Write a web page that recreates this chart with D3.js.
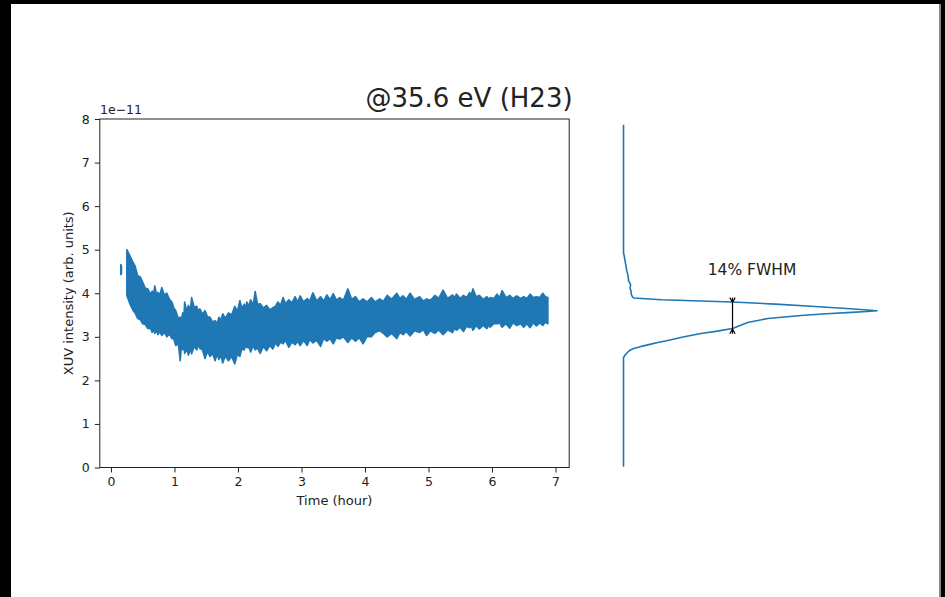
<!DOCTYPE html>
<html>
<head>
<meta charset="utf-8">
<script src="https://cdn.jsdelivr.net/npm/d3@7"></script>
<style>
  body { margin: 0; background: #000; }
  text { font-family: "DejaVu Sans", sans-serif; fill: #222; }
</style>
</head>
<body>
<svg id="chart" width="945" height="597"></svg>
<script>
// DATA (intensity in units of 1e-11, time in hours) - envelope of the noisy trace
const bandTime  = [0.25,0.30,0.35,0.38,0.42,0.46,0.50,0.54,0.58,0.62,
                   0.65,0.67,0.69,0.72,0.74,0.77,0.80,0.84,0.88,0.92,
                   0.96,0.99,1.02,1.06,1.09,1.11,1.13,1.15,1.16,1.19,
                   1.22,1.25,1.27,1.31,1.35,1.38,1.40,1.44,1.48,1.52,
                   1.56,1.60,1.64,1.67,1.70,1.73,1.76,1.80,1.85,1.90,
                   1.95,1.99,2.03,2.06,2.10,2.12,2.14,2.17,2.20,2.24,
                   2.27,2.31,2.35,2.40,2.45,2.50,2.55,2.59,2.63,2.67,
                   2.71,2.75,2.80,2.85,2.90,2.94,2.98,3.03,3.09,3.13,
                   3.18,3.24,3.30,3.35,3.40,3.45,3.50,3.55,3.60,3.66,
                   3.73,3.79,3.85,3.91,3.97,4.03,4.10,4.16,4.23,4.29,
                   4.35,4.42,4.50,4.55,4.60,4.65,4.71,4.78,4.86,4.92,
                   4.97,5.03,5.10,5.16,5.23,5.30,5.38,5.41,5.44,5.50,
                   5.55,5.60,5.65,5.67,5.70,5.75,5.80,5.86,5.92,5.95,
                   5.97,6.03,6.08,6.12,6.16,6.22,6.28,6.33,6.39,6.45,
                   6.50,6.55,6.60,6.65,6.70,6.75,6.80,6.84,6.88];
const bandUpper = [5.00,4.85,4.70,4.62,4.40,4.38,4.25,4.12,4.10,3.98,
                   4.05,3.98,4.17,3.95,4.02,3.96,4.13,3.96,4.00,3.86,
                   3.80,3.66,3.60,3.42,3.45,3.40,3.55,3.48,3.80,3.60,
                   3.72,3.62,3.90,3.68,3.70,3.58,3.64,3.52,3.60,3.46,
                   3.45,3.34,3.37,3.30,3.45,3.38,3.53,3.42,3.55,3.50,
                   3.70,3.58,3.83,3.66,3.75,3.65,3.80,3.70,3.85,3.72,
                   4.04,3.74,3.76,3.66,3.72,3.62,3.67,3.70,3.80,3.72,
                   3.90,3.76,3.85,3.78,3.92,3.80,3.94,3.80,3.88,3.82,
                   4.01,3.82,3.92,3.82,3.96,3.85,3.99,3.84,3.90,3.84,
                   4.10,3.86,3.92,3.80,3.87,3.80,3.90,3.80,3.87,3.82,
                   3.95,3.86,4.00,3.88,3.94,3.86,4.00,3.86,3.92,3.82,
                   3.87,3.84,3.95,3.88,4.07,3.88,3.96,3.90,3.98,3.88,
                   3.95,3.90,4.02,3.94,4.10,3.92,3.95,3.86,3.92,3.86,
                   3.90,3.88,3.98,3.90,4.06,3.90,3.95,3.88,3.94,3.88,
                   3.92,3.88,3.98,3.90,3.92,3.90,4.00,3.92,3.90];
const bandLower = [3.95,3.75,3.60,3.55,3.42,3.40,3.30,3.28,3.19,3.20,
                   3.10,3.16,3.08,3.14,3.05,3.12,3.03,3.10,3.00,3.06,
                   2.96,2.95,2.80,2.85,2.45,2.80,2.70,2.80,2.62,2.72,
                   2.58,2.72,2.61,2.78,2.70,2.82,2.73,2.70,2.50,2.66,
                   2.55,2.62,2.45,2.60,2.48,2.58,2.40,2.56,2.45,2.55,
                   2.38,2.60,2.55,2.72,2.70,2.80,2.75,2.76,2.65,2.80,
                   2.70,2.74,2.62,2.78,2.68,2.80,2.72,2.86,2.78,2.88,
                   2.84,2.92,2.76,2.88,2.82,2.90,2.80,2.92,2.80,2.94,
                   2.86,2.92,2.78,2.96,2.90,2.96,2.84,2.98,2.95,3.00,
                   2.87,2.98,2.90,2.98,2.84,3.00,3.00,3.10,3.14,3.08,
                   3.00,3.08,2.96,3.10,3.05,3.12,3.02,3.14,3.10,3.16,
                   3.03,3.14,3.08,3.16,3.05,3.16,3.10,3.20,3.15,3.22,
                   3.12,3.24,3.21,3.26,3.15,3.26,3.18,3.26,3.19,3.28,
                   3.22,3.30,3.30,3.32,3.22,3.30,3.20,3.32,3.26,3.30,
                   3.22,3.30,3.21,3.32,3.25,3.32,3.26,3.34,3.30];
const earlyTime  = [0.155, 0.165];
const earlyUpper = [4.66, 4.62];
const earlyLower = [4.43, 4.45];

// histogram of the intensity (value, relative count)
const histValue = [0.02,2.52,2.58,2.64,2.69,2.73,2.78,2.82,2.87,2.91,2.99,3.07,3.13,3.19,3.26,3.33,3.42,3.49,3.53,3.56,3.58,3.60,3.62,3.65,3.70,3.75,3.80,3.85,3.89,3.92,3.99,4.05,4.11,4.20,4.29,4.40,4.52,4.62,4.75,4.85,4.93,7.87];
const histCount = [0,0,0.6,1.5,2.5,4,7,10,13.5,17,23,30,37,43,46,49,57,70,80,90,96,100,95,88,74,60,43,15,4,3.5,3.0,3.0,2.6,2.8,2.0,1.8,1.3,1.0,0.6,0.3,0,0];

const xTicks = [0,1,2,3,4,5,6,7];
const yTicks = [0,1,2,3,4,5,6,7,8];
const fwhmCount = 43;
const fwhmRange = [3.07, 3.90];

const _color = { line: '#1f77b4', axis: '#222' };

let svg = d3.select('#chart');
    svg.append('rect')
          .attr('x', 11).attr('y', 4)
          .attr('width', 928).attr('height', 593)
          .attr('fill', '#fff');
    svg.append('rect')
          .attr('x', 939).attr('y', 4)
          .attr('width', 2).attr('height', 593)
          .attr('fill', '#888');

let x = d3.scaleLinear().domain([-0.176, 7.216]).range([99.8, 569.2]);
let y = d3.scaleLinear().domain([0, 8]).range([467.5, 119]);

// LEFT PANEL
let band = d3.area()
              .x(d => x(d.t))
              .y0(d => y(d.lo))
              .y1(d => y(d.hi));

let bandData = bandTime.map((t, i) => ({t: t, lo: bandLower[i], hi: bandUpper[i]}));
let earlyData = earlyTime.map((t, i) => ({t: t, lo: earlyLower[i], hi: earlyUpper[i]}));

[earlyData, bandData].forEach(data => {
  svg.append('path')
        .datum(data)
        .attr('d', band)
        .attr('fill', _color.line)
        .attr('stroke', _color.line)
        .attr('stroke-width', 1.6)
        .attr('stroke-linejoin', 'round');
});

svg.append('g')
      .attr('transform', `translate(0, ${y(0)})`)
      .call(d3.axisBottom(x).tickValues(xTicks).tickSize(5).tickPadding(5).tickFormat(d3.format('d')))
      .call(g => g.select('.domain').remove())
      .selectAll('text')
        .attr('font-size', 12.5)
        .attr('font-family', '"DejaVu Sans", sans-serif')
        .attr('fill', _color.axis);

svg.append('g')
      .attr('transform', `translate(${x.range()[0]}, 0)`)
      .call(d3.axisLeft(y).tickValues(yTicks).tickSize(5).tickPadding(5).tickFormat(d3.format('d')))
      .call(g => g.select('.domain').remove())
      .selectAll('text')
        .attr('font-size', 12.5)
        .attr('font-family', '"DejaVu Sans", sans-serif')
        .attr('fill', _color.axis);

svg.selectAll('.tick line').attr('stroke', _color.axis);

svg.append('rect')
      .attr('x', x.range()[0])
      .attr('y', y.range()[1])
      .attr('width', x.range()[1] - x.range()[0])
      .attr('height', y.range()[0] - y.range()[1])
      .attr('fill', 'none')
      .attr('stroke', _color.axis)
      .attr('stroke-width', 1);

svg.append('text')
      .attr('x', 100).attr('y', 114)
      .attr('font-size', 12.5)
      .text('1e\u221211');

svg.append('text')
      .attr('x', (x.range()[0] + x.range()[1]) / 2)
      .attr('y', 505)
      .attr('text-anchor', 'middle')
      .attr('font-size', 13)
      .text('Time (hour)');

svg.append('text')
      .attr('transform', `translate(73, ${(y.range()[0] + y.range()[1]) / 2}) rotate(-90)`)
      .attr('text-anchor', 'middle')
      .attr('font-size', 13)
      .text('XUV intensity (arb. units)');

svg.append('text')
      .attr('x', 469).attr('y', 107)
      .attr('text-anchor', 'middle')
      .attr('font-size', 26)
      .text('@35.6 eV (H23)');

// RIGHT PANEL (histogram, horizontal)
let xh = d3.scaleLinear().domain([0, 100]).range([623.5, 877]);

let histLine = d3.line()
                  .x(d => xh(d[1]))
                  .y(d => y(d[0]));

svg.append('path')
      .datum(histValue.map((v, i) => [v, histCount[i]]))
      .attr('d', histLine)
      .attr('fill', 'none')
      .attr('stroke', _color.line)
      .attr('stroke-width', 1.6)
      .attr('stroke-linejoin', 'round');

let fx = xh(fwhmCount);
let fTop = y(fwhmRange[1]), fBot = y(fwhmRange[0]);
svg.append('line')
      .attr('x1', fx).attr('x2', fx)
      .attr('y1', fTop).attr('y2', fBot)
      .attr('stroke', '#000').attr('stroke-width', 1.2);
svg.append('path')
      .attr('d', `M${fx - 2.7},${fTop} L${fx},${fTop + 4.5} L${fx + 2.7},${fTop} M${fx - 2.7},${fBot} L${fx},${fBot - 4.5} L${fx + 2.7},${fBot}`)
      .attr('fill', 'none')
      .attr('stroke', '#000').attr('stroke-width', 1.2);

svg.append('text')
      .attr('x', 752).attr('y', 275)
      .attr('text-anchor', 'middle')
      .attr('font-size', 15.5)
      .text('14% FWHM');
</script>
</body>
</html>
